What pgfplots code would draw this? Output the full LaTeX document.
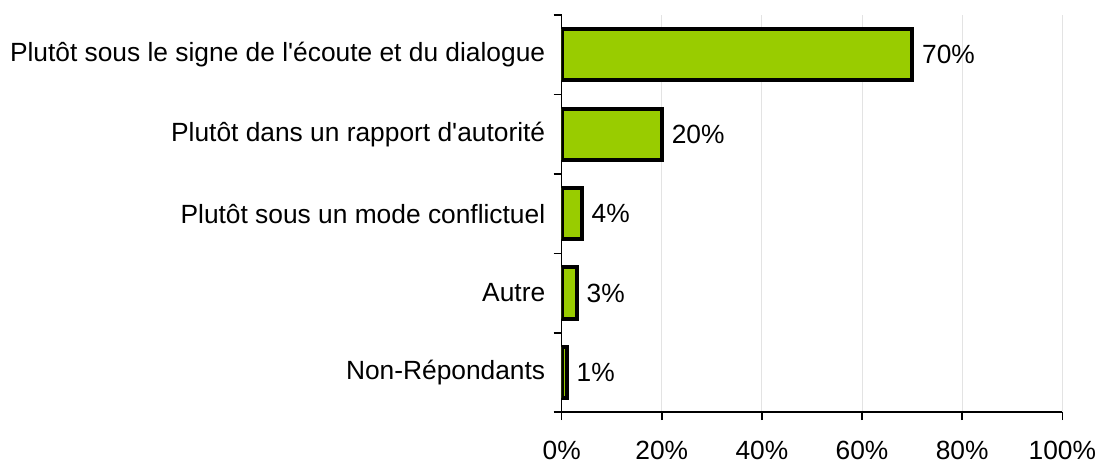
\documentclass[border=0pt]{standalone}
\usepackage{pgfplots}
\pgfplotsset{compat=1.18}
\usepackage{fontspec}
\setmainfont{Liberation Sans}
\definecolor{barvert}{HTML}{99CC00}
\definecolor{grille}{HTML}{E3E3E3}
\begin{document}
\fontsize{13.1}{15.7}\selectfont
\begin{tikzpicture}
\begin{axis}[xbar,
scale only axis,
width=249pt,
height=197.5pt,
xmin=0, xmax=100,
ymin=-0.5, ymax=4.5,
y dir=reverse,
axis x line*=bottom,
axis y line*=left,
axis line style={line width=0.75pt,-},
tick align=outside,
xtick={0,20,...,100},
minor xtick={0,20,...,100},
xticklabel={\pgfmathprintnumber{\tick}\%},
xmajorgrids,
major grid style={grille,line width=0.5pt},
major tick length=0pt,
minor tick length=4pt,
every tick/.style={black,line width=0.75pt},
ytick={0,1,2,3,4},
yticklabels={{Plutôt sous le signe de l\textquotesingle écoute et du dialogue},{Plutôt dans un rapport d\textquotesingle autorité},{Plutôt sous un mode conflictuel},{Autre},{Non-Répondants\hspace{6pt}}},
minor ytick={-0.5,0.5,...,4.5},
x tick label style={inner sep=0pt,anchor=north,yshift=-14pt},
y tick label style={inner sep=0pt,anchor=east,xshift=-8pt},
/pgf/number format/assume math mode=true,
bar width=25.5pt,
nodes near coords={\pgfmathprintnumber{\pgfplotspointmeta}\%},
point meta=x,
nodes near coords style={anchor=west,inner sep=0pt,xshift=4pt},
]
\addplot[fill=barvert,draw=black,line width=2pt] coordinates {(70,0) (20,1) (4,2) (3,3) (1,4)};
\end{axis}
\path (current axis.north west) ++(0,7.5pt);
\path (current axis.outer west) ++(-5pt,0);
\path (current axis.outer south) ++(0,-2pt);
\end{tikzpicture}
\end{document}
